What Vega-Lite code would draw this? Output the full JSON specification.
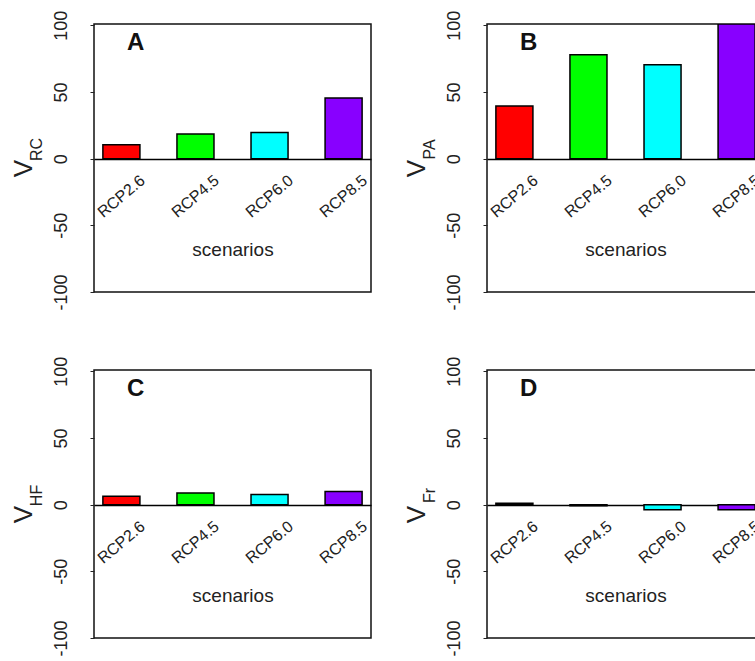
{
  "$schema": "https://vega.github.io/schema/vega-lite/v6.json",
  "padding": {"left": 9, "top": 9, "right": 0, "bottom": 0},
  "background": "white",
  "data": {"values": [
    {"panel": "A", "scenario": "RCP2.6", "value": 10.5},
    {"panel": "A", "scenario": "RCP4.5", "value": 18.5},
    {"panel": "A", "scenario": "RCP6.0", "value": 19.7},
    {"panel": "A", "scenario": "RCP8.5", "value": 45.5},
    {"panel": "B", "scenario": "RCP2.6", "value": 39.5},
    {"panel": "B", "scenario": "RCP4.5", "value": 78},
    {"panel": "B", "scenario": "RCP6.0", "value": 70.5},
    {"panel": "B", "scenario": "RCP8.5", "value": 101},
    {"panel": "C", "scenario": "RCP2.6", "value": 6.3},
    {"panel": "C", "scenario": "RCP4.5", "value": 8.7},
    {"panel": "C", "scenario": "RCP6.0", "value": 7.6},
    {"panel": "C", "scenario": "RCP8.5", "value": 9.9},
    {"panel": "D", "scenario": "RCP2.6", "value": 1.0},
    {"panel": "D", "scenario": "RCP4.5", "value": -0.8},
    {"panel": "D", "scenario": "RCP6.0", "value": -3.8},
    {"panel": "D", "scenario": "RCP8.5", "value": -3.8}
  ]},
  "columns": 2,
  "spacing": {"row": 78, "column": 116},
  "bounds": "flush",
  "concat": [
    {
      "width": 277, "height": 268,
      "title": {"text": "A", "anchor": "start", "frame": "group", "dx": 33, "offset": -45, "fontSize": 24, "fontWeight": "bold", "color": "#111"},
      "transform": [{"filter": "datum.panel === 'A'"}],
      "encoding": {
        "x": {"field": "scenario", "type": "nominal", "sort": null,
              "scale": {"paddingInner": 0.5, "paddingOuter": 0.12},
              "axis": {"orient": "bottom", "offset": -133, "ticks": false, "tickSize": 0, "labelAngle": -40, "labelAlign": "center", "labelBaseline": "middle", "labelPadding": 37, "labelFontSize": 16, "domainWidth": 1.5, "domainColor": "black", "title": "scenarios", "titleFontSize": 19, "titleY": 90, "titleBaseline": "middle"}},
        "color": {"field": "scenario", "type": "nominal", "scale": {"domain": ["RCP2.6", "RCP4.5", "RCP6.0", "RCP8.5"], "range": ["#ff0000", "#00ff00", "#00ffff", "#8800ff"]}, "legend": null}
      },
      "layer": [
        {"mark": {"type": "bar", "strokeWidth": 0},
         "encoding": {"y": {"field": "value", "type": "quantitative", "scale": {"domain": [-100, 101], "nice": false, "zero": false},
           "axis": {"orient": "left", "values": [-100, -50, 0, 50, 100], "labelExpr": "'' + datum.value", "domain": false, "tickSize": 4, "labelAngle": 270, "labelAlign": "center", "labelBaseline": "bottom", "labelPadding": 20, "labelFontSize": 18, "title": "V", "titleFontSize": 26, "titleAngle": 270, "titleAlign": "center", "titleBaseline": "bottom", "titleX": -58, "titleY": 144}}}},
        {"mark": {"type": "bar", "fillOpacity": 0, "stroke": "black", "strokeWidth": 1.5},
         "encoding": {"y": {"field": "value", "type": "quantitative",
           "axis": {"orient": "left", "labels": false, "ticks": false, "domain": false, "title": "RC", "titleFontSize": 16, "titleAngle": 270, "titleAlign": "center", "titleBaseline": "bottom", "titleX": -50, "titleY": 125}}}}
      ],
      "resolve": {"axis": {"y": "independent"}}
    },
    {
      "width": 277, "height": 268,
      "title": {"text": "B", "anchor": "start", "frame": "group", "dx": 33, "offset": -45, "fontSize": 24, "fontWeight": "bold", "color": "#111"},
      "transform": [{"filter": "datum.panel === 'B'"}],
      "encoding": {
        "x": {"field": "scenario", "type": "nominal", "sort": null,
              "scale": {"paddingInner": 0.5, "paddingOuter": 0.12},
              "axis": {"orient": "bottom", "offset": -133, "ticks": false, "tickSize": 0, "labelAngle": -40, "labelAlign": "center", "labelBaseline": "middle", "labelPadding": 37, "labelFontSize": 16, "domainWidth": 1.5, "domainColor": "black", "title": "scenarios", "titleFontSize": 19, "titleY": 90, "titleBaseline": "middle"}},
        "color": {"field": "scenario", "type": "nominal", "scale": {"domain": ["RCP2.6", "RCP4.5", "RCP6.0", "RCP8.5"], "range": ["#ff0000", "#00ff00", "#00ffff", "#8800ff"]}, "legend": null}
      },
      "layer": [
        {"mark": {"type": "bar", "strokeWidth": 0, "clip": true},
         "encoding": {"y": {"field": "value", "type": "quantitative", "scale": {"domain": [-100, 101], "nice": false, "zero": false},
           "axis": {"orient": "left", "values": [-100, -50, 0, 50, 100], "labelExpr": "'' + datum.value", "domain": false, "tickSize": 4, "labelAngle": 270, "labelAlign": "center", "labelBaseline": "bottom", "labelPadding": 20, "labelFontSize": 18, "title": "V", "titleFontSize": 26, "titleAngle": 270, "titleAlign": "center", "titleBaseline": "bottom", "titleX": -58, "titleY": 144}}}},
        {"mark": {"type": "bar", "fillOpacity": 0, "stroke": "black", "strokeWidth": 1.5, "clip": true},
         "encoding": {"y": {"field": "value", "type": "quantitative",
           "axis": {"orient": "left", "labels": false, "ticks": false, "domain": false, "title": "PA", "titleFontSize": 16, "titleAngle": 270, "titleAlign": "center", "titleBaseline": "bottom", "titleX": -50, "titleY": 125}}}}
      ],
      "resolve": {"axis": {"y": "independent"}}
    },
    {
      "width": 277, "height": 268,
      "title": {"text": "C", "anchor": "start", "frame": "group", "dx": 33, "offset": -45, "fontSize": 24, "fontWeight": "bold", "color": "#111"},
      "transform": [{"filter": "datum.panel === 'C'"}],
      "encoding": {
        "x": {"field": "scenario", "type": "nominal", "sort": null,
              "scale": {"paddingInner": 0.5, "paddingOuter": 0.12},
              "axis": {"orient": "bottom", "offset": -133, "ticks": false, "tickSize": 0, "labelAngle": -40, "labelAlign": "center", "labelBaseline": "middle", "labelPadding": 37, "labelFontSize": 16, "domainWidth": 1.5, "domainColor": "black", "title": "scenarios", "titleFontSize": 19, "titleY": 90, "titleBaseline": "middle"}},
        "color": {"field": "scenario", "type": "nominal", "scale": {"domain": ["RCP2.6", "RCP4.5", "RCP6.0", "RCP8.5"], "range": ["#ff0000", "#00ff00", "#00ffff", "#8800ff"]}, "legend": null}
      },
      "layer": [
        {"mark": {"type": "bar", "strokeWidth": 0},
         "encoding": {"y": {"field": "value", "type": "quantitative", "scale": {"domain": [-100, 101], "nice": false, "zero": false},
           "axis": {"orient": "left", "values": [-100, -50, 0, 50, 100], "labelExpr": "'' + datum.value", "domain": false, "tickSize": 4, "labelAngle": 270, "labelAlign": "center", "labelBaseline": "bottom", "labelPadding": 20, "labelFontSize": 18, "title": "V", "titleFontSize": 26, "titleAngle": 270, "titleAlign": "center", "titleBaseline": "bottom", "titleX": -58, "titleY": 144}}}},
        {"mark": {"type": "bar", "fillOpacity": 0, "stroke": "black", "strokeWidth": 1.5},
         "encoding": {"y": {"field": "value", "type": "quantitative",
           "axis": {"orient": "left", "labels": false, "ticks": false, "domain": false, "title": "HF", "titleFontSize": 16, "titleAngle": 270, "titleAlign": "center", "titleBaseline": "bottom", "titleX": -50, "titleY": 125}}}}
      ],
      "resolve": {"axis": {"y": "independent"}}
    },
    {
      "width": 277, "height": 268,
      "title": {"text": "D", "anchor": "start", "frame": "group", "dx": 33, "offset": -45, "fontSize": 24, "fontWeight": "bold", "color": "#111"},
      "transform": [{"filter": "datum.panel === 'D'"}],
      "encoding": {
        "x": {"field": "scenario", "type": "nominal", "sort": null,
              "scale": {"paddingInner": 0.5, "paddingOuter": 0.12},
              "axis": {"orient": "bottom", "offset": -133, "ticks": false, "tickSize": 0, "labelAngle": -40, "labelAlign": "center", "labelBaseline": "middle", "labelPadding": 37, "labelFontSize": 16, "domainWidth": 1.5, "domainColor": "black", "title": "scenarios", "titleFontSize": 19, "titleY": 90, "titleBaseline": "middle"}},
        "color": {"field": "scenario", "type": "nominal", "scale": {"domain": ["RCP2.6", "RCP4.5", "RCP6.0", "RCP8.5"], "range": ["#ff0000", "#00ff00", "#00ffff", "#8800ff"]}, "legend": null}
      },
      "layer": [
        {"mark": {"type": "bar", "strokeWidth": 0},
         "encoding": {"y": {"field": "value", "type": "quantitative", "scale": {"domain": [-100, 101], "nice": false, "zero": false},
           "axis": {"orient": "left", "values": [-100, -50, 0, 50, 100], "labelExpr": "'' + datum.value", "domain": false, "tickSize": 4, "labelAngle": 270, "labelAlign": "center", "labelBaseline": "bottom", "labelPadding": 20, "labelFontSize": 18, "title": "V", "titleFontSize": 26, "titleAngle": 270, "titleAlign": "center", "titleBaseline": "bottom", "titleX": -58, "titleY": 144}}}},
        {"mark": {"type": "bar", "fillOpacity": 0, "stroke": "black", "strokeWidth": 1.5},
         "encoding": {"y": {"field": "value", "type": "quantitative",
           "axis": {"orient": "left", "labels": false, "ticks": false, "domain": false, "title": "Fr", "titleFontSize": 16, "titleAngle": 270, "titleAlign": "center", "titleBaseline": "bottom", "titleX": -50, "titleY": 125}}}}
      ],
      "resolve": {"axis": {"y": "independent"}}
    }
  ],
  "config": {
    "font": "Liberation Sans",
    "view": {"stroke": "#111", "strokeWidth": 1.5},
    "axis": {"grid": false, "labelFont": "Liberation Sans", "titleFont": "Liberation Sans", "labelColor": "#222", "titleColor": "#222", "tickColor": "#222", "titleFontWeight": "normal"},
    "title": {"font": "Liberation Sans"}
  }
}
